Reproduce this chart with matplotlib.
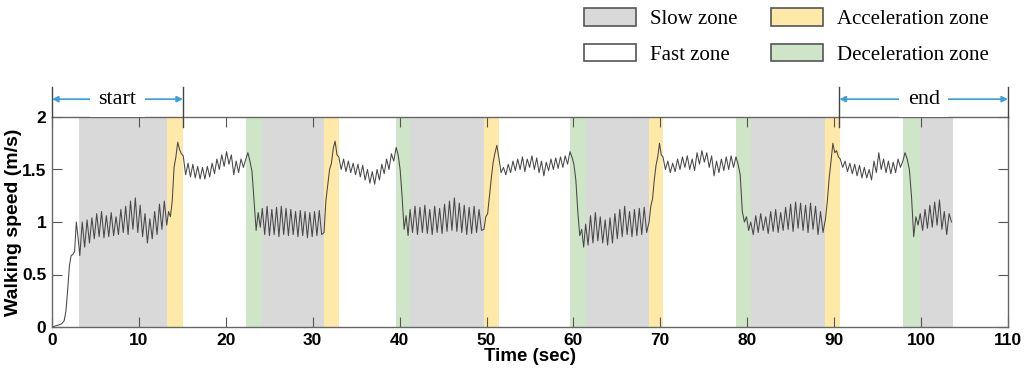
import numpy as np
import matplotlib
matplotlib.use("Agg")
import matplotlib.pyplot as plt
from matplotlib.patches import Patch

# zone boundaries (sec)
slow_start = [3.1, 24.2, 41.2, 61.4, 80.4, 99.9]
slow_end = [13.2, 31.3, 49.7, 68.7, 89.0, 103.7]
accel_start = [13.2, 31.3, 49.7, 68.7, 89.0]
accel_end = [15.1, 33.0, 51.4, 70.3, 90.7]
decel_start = [22.3, 39.6, 59.6, 78.7, 97.9]
decel_end = [24.2, 41.2, 61.4, 80.4, 99.9]

start_range = (0.0, 15.07)
end_range = (90.6, 110.0)

# speed trace: initial ramp, then values read zone by zone
ramp_t = [0, 0.4, 0.8, 1.1, 1.4, 1.6, 1.8, 2.0, 2.2, 2.4, 2.6, 2.8, 3.0]
ramp_v = [0, 0.01, 0.02, 0.03, 0.06, 0.15, 0.35, 0.58, 0.68, 0.69, 0.72, 1.0, 0.85]

segments = [
    (3.2, 13.2, [0.68, 1.00, 0.76, 1.02, 0.80, 1.04, 0.84, 1.08, 0.86, 1.10, 0.85, 1.06,
                 0.86, 1.09, 0.87, 1.05, 0.88, 1.12, 0.90, 1.15, 0.88, 1.20, 0.93, 1.23,
                 0.90, 1.16, 0.86, 1.08, 0.80, 1.03, 0.84, 1.10, 0.88, 1.17, 0.93, 1.20]),
    (13.2, 15.1, [0.97, 1.10, 1.05, 1.20, 1.52, 1.62, 1.76, 1.69, 1.65]),
    (15.1, 22.3, [1.63, 1.45, 1.56, 1.43, 1.55, 1.42, 1.53, 1.41, 1.52, 1.41, 1.53, 1.43,
                  1.56, 1.46, 1.60, 1.50, 1.64, 1.53, 1.67, 1.55, 1.64, 1.45, 1.58, 1.47,
                  1.60, 1.52]),
    (22.3, 24.2, [1.60, 1.66, 1.58, 1.48, 1.20, 0.92, 1.09, 0.95]),
    (24.2, 31.3, [1.13, 0.88, 1.15, 0.87, 1.12, 0.88, 1.14, 0.86, 1.15, 0.88, 1.13, 0.87,
                  1.12, 0.88, 1.10, 0.86, 1.11, 0.87, 1.10, 0.85, 1.09, 0.86, 1.10, 0.87,
                  1.11, 0.88]),
    (31.3, 33.0, [0.90, 1.20, 1.35, 1.50, 1.56, 1.70, 1.77, 1.64]),
    (33.0, 39.6, [1.62, 1.50, 1.60, 1.48, 1.58, 1.47, 1.56, 1.45, 1.55, 1.43, 1.54, 1.40,
                  1.50, 1.37, 1.48, 1.36, 1.50, 1.40, 1.55, 1.46, 1.60, 1.50, 1.65, 1.58]),
    (39.6, 41.2, [1.71, 1.64, 1.50, 1.24, 0.93, 1.06, 0.87]),
    (41.2, 49.7, [1.12, 0.90, 1.15, 0.88, 1.14, 0.90, 1.16, 0.89, 1.12, 0.88, 1.15, 0.90,
                  1.13, 0.89, 1.17, 0.91, 1.20, 0.92, 1.23, 0.91, 1.18, 0.90, 1.16, 0.88,
                  1.14, 0.89, 1.15, 0.90, 1.12, 0.92]),
    (49.7, 51.4, [0.93, 1.05, 1.08, 1.25, 1.42, 1.57, 1.66, 1.73]),
    (51.4, 59.6, [1.62, 1.47, 1.52, 1.45, 1.55, 1.47, 1.58, 1.49, 1.60, 1.50, 1.62, 1.48,
                  1.60, 1.52, 1.63, 1.50, 1.61, 1.47, 1.58, 1.44, 1.57, 1.49, 1.60, 1.50,
                  1.61, 1.51, 1.62, 1.52, 1.63, 1.55]),
    (59.6, 61.4, [1.67, 1.62, 1.55, 1.40, 1.10, 0.87, 0.93, 0.76]),
    (61.4, 68.7, [0.98, 0.78, 1.06, 0.80, 1.09, 0.82, 1.05, 0.80, 1.02, 0.78, 1.04, 0.80,
                  1.08, 0.84, 1.12, 0.86, 1.15, 0.88, 1.10, 0.86, 1.12, 0.87, 1.13, 0.88,
                  1.14, 0.90]),
    (68.7, 70.3, [1.00, 1.15, 1.22, 1.40, 1.54, 1.62, 1.75, 1.64]),
    (70.3, 78.7, [1.62, 1.50, 1.58, 1.47, 1.56, 1.48, 1.60, 1.50, 1.62, 1.52, 1.63, 1.50,
                  1.60, 1.49, 1.66, 1.55, 1.68, 1.57, 1.66, 1.52, 1.63, 1.44, 1.58, 1.47,
                  1.60, 1.49, 1.62, 1.50, 1.63, 1.52]),
    (78.7, 80.4, [1.62, 1.55, 1.45, 1.10, 1.00, 1.05, 0.92]),
    (80.4, 89.0, [1.00, 0.88, 1.06, 0.90, 1.08, 0.92, 1.05, 0.89, 1.10, 0.91, 1.12, 0.90,
                  1.09, 0.92, 1.14, 0.93, 1.17, 0.91, 1.19, 0.94, 1.18, 0.92, 1.16, 0.90,
                  1.18, 0.93, 1.15, 0.88, 1.10, 0.90]),
    (89.0, 90.7, [1.03, 1.20, 1.42, 1.58, 1.75, 1.66, 1.68, 1.62]),
    (90.7, 97.9, [1.60, 1.52, 1.58, 1.48, 1.56, 1.46, 1.55, 1.44, 1.54, 1.42, 1.52, 1.42,
                  1.50, 1.40, 1.58, 1.47, 1.66, 1.50, 1.60, 1.47, 1.58, 1.46, 1.57, 1.47,
                  1.60, 1.52]),
    (97.9, 99.9, [1.58, 1.66, 1.60, 1.50, 1.24, 0.86, 1.05, 0.97]),
    (99.9, 103.5, [1.08, 0.92, 1.12, 0.94, 1.16, 0.95, 1.19, 0.97, 1.21, 0.93, 1.10, 0.88,
                   1.08, 1.00]),
]

t_all = list(ramp_t)
v_all = list(ramp_v)
for i, (t0, t1, vals) in enumerate(segments):
    last = i == len(segments) - 1
    t_all.extend(np.linspace(t0, t1, len(vals), endpoint=last))
    v_all.extend(vals)

slow_c = '#d9d9d9'
accel_c = '#fee9a9'
decel_c = '#cfe5c8'
arrow_c = '#3a9fdc'

sans = ['Liberation Sans', 'DejaVu Sans']
serif = ['Liberation Serif', 'DejaVu Serif']

fig = plt.figure(figsize=(10.24, 3.74), dpi=100)
ax = fig.add_axes([52/1024, 1-327/374, 956/1024, 210/374])

for s, e in zip(slow_start, slow_end):
    ax.axvspan(s, e, color=slow_c, lw=0, zorder=0)
for s, e in zip(accel_start, accel_end):
    ax.axvspan(s, e, color=accel_c, lw=0, zorder=0)
for s, e in zip(decel_start, decel_end):
    ax.axvspan(s, e, color=decel_c, lw=0, zorder=0)

ax.plot(t_all, v_all, color='#474747', lw=0.75, zorder=2, solid_joinstyle='round')

ax.set_xlim(0, 110)
ax.set_ylim(0, 2)
ax.set_xticks(np.arange(0, 111, 10))
ax.set_yticks([0, 0.5, 1, 1.5, 2])
ax.set_yticklabels(['0', '0.5', '1', '1.5', '2'])
ax.tick_params(direction='in', length=7, width=0.8, color='#555555',
               top=True, right=True, labelsize=12.5, pad=4)
for lab in ax.get_xticklabels() + ax.get_yticklabels():
    lab.set_family(sans)
    lab.set_fontweight('bold')
for sp in ax.spines.values():
    sp.set_color('#666666')
    sp.set_linewidth(1.0)

ax.set_xlabel('Time (sec)', family=sans, fontweight='bold', fontsize=13.5, labelpad=0)
ax.set_ylabel('Walking speed (m/s)', family=sans, fontweight='bold', fontsize=14,
              labelpad=0)

# start / end markers above the axes
for x0, x1 in [start_range, end_range]:
    for xv in (x0, x1):
        inner = 0 < xv < 110
        ax.plot([xv, xv], [1.905 if inner else 2, 2.29], color='#444444',
                lw=1, clip_on=False, zorder=3)
    ax.annotate('', xy=(x0, 2.17), xytext=(x1, 2.17), xycoords='data',
                arrowprops=dict(arrowstyle='<|-|>', color=arrow_c, lw=1.2,
                                shrinkA=0, shrinkB=0, mutation_scale=9),
                annotation_clip=False)
for rng, word in [(start_range, 'start'), (end_range, 'end')]:
    ax.text(sum(rng)/2, 2.17, word, ha='center', va='center',
            family=serif, fontsize=16,
            bbox=dict(facecolor='white', edgecolor='none', pad=6),
            clip_on=False, zorder=4)

handles = [Patch(facecolor=slow_c, edgecolor='#555555', lw=1.2),
           Patch(facecolor='white', edgecolor='#555555', lw=1.2),
           Patch(facecolor=accel_c, edgecolor='#555555', lw=1.2),
           Patch(facecolor=decel_c, edgecolor='#555555', lw=1.2)]
labels = ['Slow zone', 'Fast zone', 'Acceleration zone', 'Deceleration zone']
fig.legend(handles, labels, loc='upper left', bbox_to_anchor=(584/1024, 1-8/374),
           ncol=2, frameon=False, prop={'family': serif, 'size': 15},
           handlelength=2.5, handleheight=0.92, handletextpad=0.67,
           columnspacing=1.6, labelspacing=0.7, borderpad=0, borderaxespad=0)

fig.savefig('out.png', dpi=100)
